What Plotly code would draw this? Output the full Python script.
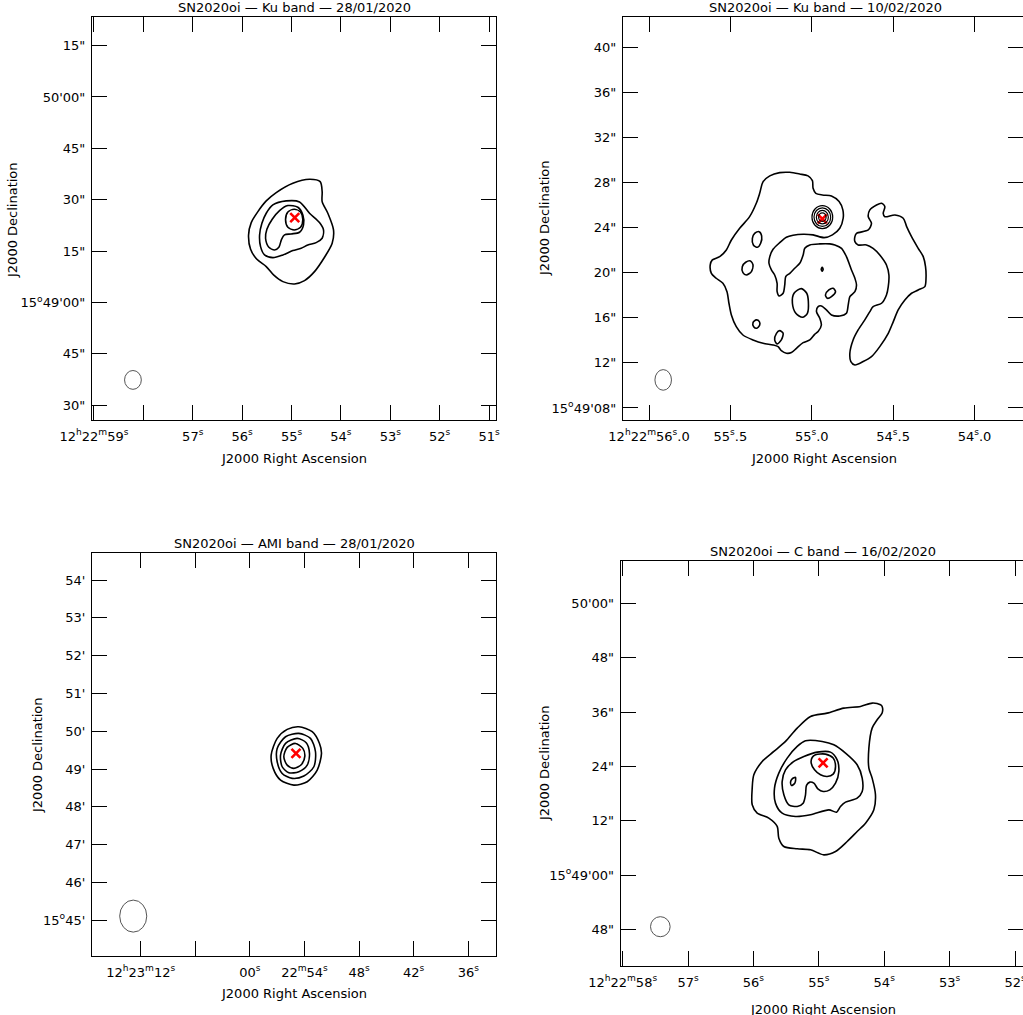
import plotly.graph_objects as go

# ---------------- DATA ----------------
# RA in seconds of 12h22m (values > 60 belong to 12h23m), Dec in arcsec offset from +15d49'00"
SRC_RA = 54.935
SRC_DEC = 24.8
COS_DEC = 0.96211                  # cos(+15.82 deg)
ARCSEC_PER_SEC = 15.0 * COS_DEC    # arcsec of sky per second of RA

# Panel 1 : Ku band 28/01/2020
P1_C1_RA = [55.310, 54.973, 54.636, 54.420, 54.380, 54.380, 54.265, 54.150, 54.177, 54.332, 54.535,
            54.737, 54.939, 55.175, 55.364, 55.512, 55.701, 55.829, 55.870, 55.816, 55.681, 55.512]
P1_C1_DEC = [32.09, 34.82, 35.98, 35.30, 32.38, 29.46, 26.06, 21.19, 17.30, 13.21, 9.02,
             6.40, 5.42, 6.10, 8.05, 10.48, 12.62, 15.55, 19.73, 23.33, 26.54, 29.66]
P1_C2_RA = [55.108, 54.838, 54.636, 54.434, 54.353, 54.380, 54.501, 54.670, 54.804, 54.973, 55.175,
            55.378, 55.546, 55.627, 55.647, 55.600, 55.512, 55.378]
P1_C2_DEC = [29.66, 29.37, 26.06, 23.33, 21.19, 18.76, 17.49, 16.81, 15.84, 15.16, 13.89,
             13.11, 13.89, 16.32, 19.73, 23.14, 26.06, 28.49]
P1_C3_RA = [55.243, 55.074, 54.872, 54.771, 54.757, 54.838, 55.007, 55.142, 55.202, 55.256, 55.344,
            55.459, 55.526, 55.499, 55.391]
P1_C3_DEC = [26.83, 28.30, 27.81, 25.57, 22.65, 20.51, 20.02, 19.73, 18.46, 16.13, 15.35,
             16.13, 18.76, 21.38, 24.30]
P1_C4_RA = [54.946, 54.818, 54.771, 54.818, 54.946, 55.074, 55.121, 55.074]
P1_C4_DEC = [27.22, 26.44, 24.21, 21.97, 21.19, 21.97, 24.21, 26.44]

# Panel 2 : Ku band 10/02/2020
P2_C1_RA = [55.299, 55.258, 55.197, 55.135, 55.074, 55.023, 54.996, 54.992, 54.975, 54.934,
            54.879, 54.832, 54.809, 54.807, 54.828, 54.873, 54.924, 54.992, 55.053, 55.115,
            55.156, 55.197, 55.238, 55.258, 55.263, 55.248, 55.228, 55.213, 55.213, 55.201,
            55.176, 55.166, 55.160, 55.135, 55.105, 55.074, 55.053, 55.043, 55.012, 54.951,
            54.889, 54.858, 54.817, 54.787, 54.756, 54.735, 54.725, 54.735, 54.766, 54.776,
            54.787, 54.828, 54.879, 54.910, 54.941, 54.961, 54.971, 54.951, 54.941, 54.961,
            54.982, 55.012, 55.053, 55.094, 55.125, 55.156, 55.187, 55.207, 55.238, 55.299,
            55.361, 55.423, 55.464, 55.494, 55.509, 55.521, 55.546, 55.587, 55.617, 55.624,
            55.611, 55.566, 55.525, 55.494, 55.443, 55.382, 55.341, 55.320]
P2_C1_DEC = [28.10, 28.61, 28.90, 28.93, 28.78, 28.61, 28.19, 27.51, 27.07, 26.92,
             26.83, 26.33, 25.59, 24.85, 23.96, 23.37, 23.13, 23.37, 23.43, 23.34,
             23.16, 22.68, 22.09, 21.44, 20.85, 20.26, 19.81, 19.07, 18.33, 17.95,
             18.19, 18.93, 19.67, 19.96, 20.41, 20.85, 21.59, 22.18, 22.48, 22.57,
             22.57, 22.48, 22.18, 21.44, 20.26, 19.52, 18.93, 18.33, 17.89, 17.15,
             16.41, 16.17, 16.26, 16.71, 17.06, 17.00, 16.56, 15.97, 15.37, 14.78,
             14.54, 14.04, 13.80, 13.30, 12.92, 12.86, 13.09, 13.45, 13.60, 13.74,
             14.04, 14.48, 15.22, 16.26, 17.30, 18.33, 19.07, 19.52, 19.96, 20.70,
             21.15, 21.44, 22.03, 22.92, 23.96, 24.99, 26.18, 27.07]
P2_C2_RA = [54.725, 54.653, 54.633, 54.653, 54.643, 54.602, 54.571, 54.551, 54.561, 54.551,
            54.489, 54.438, 54.417, 54.387, 54.346, 54.315, 54.301, 54.298, 54.305, 54.346,
            54.387, 54.428, 54.469, 54.499, 54.530, 54.582, 54.633, 54.684, 54.735, 54.760,
            54.766, 54.746, 54.715, 54.674, 54.643, 54.623, 54.571, 54.541, 54.530, 54.526,
            54.541, 54.582, 54.623, 54.664, 54.715, 54.735, 54.735]
P2_C2_DEC = [23.51, 23.81, 24.40, 24.99, 25.59, 26.03, 26.18, 25.88, 25.29, 24.99,
             25.14, 24.85, 24.11, 23.22, 22.18, 21.44, 20.55, 19.52, 18.78, 18.48,
             18.19, 17.59, 16.71, 15.67, 14.63, 13.45, 12.56, 12.12, 11.82, 12.12,
             12.86, 14.04, 14.93, 15.82, 16.56, 17.00, 17.30, 18.04, 18.78, 19.81,
             20.70, 21.59, 22.18, 22.48, 22.48, 22.77, 23.22]
P2_I1_RA = [55.324, 55.308, 55.314, 55.334, 55.359, 55.365, 55.351]
P2_I1_DEC = [23.66, 23.28, 22.63, 22.27, 22.48, 23.07, 23.51]
P2_I2_RA = [55.377, 55.361, 55.371, 55.402, 55.423, 55.427, 55.406]
P2_I2_DEC = [21.06, 20.70, 20.11, 19.81, 20.02, 20.55, 20.94]
P2_I3_RA = [55.341, 55.322, 55.320, 55.338, 55.357, 55.361]
P2_I3_DEC = [15.82, 15.67, 15.37, 15.08, 15.22, 15.58]
P2_I4_RA = [55.197, 55.176, 55.187, 55.213, 55.228, 55.217]
P2_I4_DEC = [14.87, 14.63, 14.04, 13.69, 14.04, 14.63]
P2_I5_RA = [55.064, 55.031, 55.021, 55.027, 55.057, 55.098, 55.119, 55.109]
P2_I5_DEC = [18.60, 18.19, 17.45, 16.41, 16.05, 16.41, 17.30, 18.19]
P2_I6_RA = [54.869, 54.854, 54.879, 54.904, 54.916, 54.895]
P2_I6_DEC = [18.63, 18.33, 17.89, 17.74, 18.04, 18.48]
P2_I7_RA = [54.936, 54.930, 54.936, 54.942]
P2_I7_DEC = [20.50, 20.32, 20.14, 20.32]
P2_RING_RX = [0.92, 0.74, 0.53, 0.33]   # arcsec
P2_RING_RY = [1.02, 0.83, 0.60, 0.38]   # arcsec
P2_RING_DEC = 24.95

# Panel 3 : AMI 28/01/2020
P3_C1_RA = [54.62, 53.15, 52.35, 52.13, 52.60, 53.70, 55.17, 56.63, 57.44, 57.66, 57.00, 55.90]
P3_C1_DEC = [67.2, 59.3, 40.7, 24.9, -1.6, -20.1, -25.4, -17.5, 1.1, 22.2, 48.7, 63.0]
P3_C2_RA = [54.62, 53.34, 52.79, 52.97, 54.07, 55.35, 56.45, 57.00, 57.00, 56.08]
P3_C2_DEC = [56.6, 48.7, 27.5, 3.7, -11.1, -14.8, -6.9, 11.6, 32.8, 51.3]
P3_C3_RA = [54.80, 53.81, 53.45, 53.70, 54.62, 55.72, 56.45, 56.63, 56.08]
P3_C3_DEC = [48.7, 41.8, 24.9, 6.3, -4.2, -5.8, 3.7, 22.2, 40.7]
P3_C4_RA = [54.99, 54.18, 53.96, 54.33, 55.17, 55.90, 56.27, 55.90]
P3_C4_DEC = [40.7, 32.8, 20.6, 7.4, 1.1, 6.3, 19.6, 34.4]

# Panel 4 : C band 16/02/2020
P4_C1_RA = [54.057, 54.185, 54.363, 54.618, 54.873, 55.127, 55.331, 55.510, 55.688, 55.866,
            55.994, 56.019, 56.019, 55.943, 55.765, 55.637, 55.612, 55.535, 55.331, 55.127,
            54.924, 54.745, 54.567, 54.414, 54.286, 54.159, 54.134, 54.185, 54.235, 54.235,
            54.185, 54.108, 54.032, 54.032]
P4_C1_DEC = [37.62, 37.99, 37.25, 36.88, 35.78, 35.04, 32.47, 29.53, 27.32, 25.11,
             22.17, 19.23, 15.55, 13.71, 12.61, 10.77, 8.19, 6.35, 5.84, 5.62,
             4.51, 5.25, 7.45, 9.67, 11.50, 14.44, 17.75, 21.43, 23.64, 28.05,
             32.47, 34.31, 35.78, 37.25]
P4_C2_RA = [55.204, 54.949, 54.771, 54.592, 54.414, 54.337, 54.337, 54.414, 54.592, 54.669,
            54.730, 54.847, 55.127, 55.357, 55.561, 55.663, 55.678, 55.612, 55.484, 55.331]
P4_C2_DEC = [29.67, 29.52, 28.79, 26.95, 24.38, 21.43, 18.49, 17.02, 16.13, 15.18,
             13.93, 14.44, 13.34, 12.97, 13.71, 15.92, 19.23, 22.54, 25.85, 28.42]
P4_C3_RA = [55.229, 55.025, 54.822, 54.720, 54.694, 54.745, 54.832, 54.934, 55.015, 55.076,
            55.138, 55.189, 55.204, 55.240, 55.331, 55.459, 55.535, 55.561, 55.510, 55.382]
P4_C3_DEC = [26.21, 27.17, 27.17, 25.48, 22.90, 20.32, 18.85, 18.49, 19.08, 20.32,
             20.55, 19.82, 17.75, 15.91, 15.18, 15.55, 17.75, 20.70, 23.27, 25.11]
P4_C4_RA = [55.051, 54.898, 54.781, 54.745, 54.781, 54.873, 54.975, 55.066, 55.117, 55.102]
P4_C4_DEC = [26.58, 26.73, 25.85, 24.01, 22.32, 21.80, 22.17, 23.27, 24.74, 25.99]
P4_C5_RA = [55.408, 55.357, 55.367, 55.418, 55.433]
P4_C5_DEC = [21.29, 21.58, 20.33, 19.81, 20.55]

# Restoring beams (major, minor) in arcsec
BEAMS = [(5.5, 4.9), (1.83, 1.47), (50.8, 42.9), (4.42, 4.33)]

# Titles and ticks
TITLES = ["SN2020oi — Ku band — 28/01/2020", "SN2020oi — Ku band — 10/02/2020",
          "SN2020oi — AMI band — 28/01/2020", "SN2020oi — C band — 16/02/2020"]
P1_XT = [59, 58, 57, 56, 55, 54, 53, 52, 51]
P1_XL = ["12<sup>h</sup>22<sup>m</sup>59<sup>s</sup>", "", "57<sup>s</sup>", "56<sup>s</sup>",
         "55<sup>s</sup>", "54<sup>s</sup>", "53<sup>s</sup>", "52<sup>s</sup>", "51<sup>s</sup>"]
P1_YT = [75, 60, 45, 30, 15, 0, -15, -30]
P1_YL = ['15"', "50'00\"", '45"', '30"', '15"', "15<sup>o</sup>49'00\"", '45"', '30"']
P2_XT = [56.0, 55.5, 55.0, 54.5, 54.0]
P2_XL = ["12<sup>h</sup>22<sup>m</sup>56<sup>s</sup>.0", "55<sup>s</sup>.5", "55<sup>s</sup>.0",
         "54<sup>s</sup>.5", "54<sup>s</sup>.0"]
P2_YT = [40, 36, 32, 28, 24, 20, 16, 12, 8]
P2_YL = ['40"', '36"', '32"', '28"', '24"', '20"', '16"', '12"', "15<sup>o</sup>49'08\""]
P3_XT = [72, 66, 60, 54, 48, 42, 36]
P3_XL = ["12<sup>h</sup>23<sup>m</sup>12<sup>s</sup>", "", "00<sup>s</sup>",
         "22<sup>m</sup>54<sup>s</sup>", "48<sup>s</sup>", "42<sup>s</sup>", "36<sup>s</sup>"]
P3_YT = [300, 240, 180, 120, 60, 0, -60, -120, -180, -240]
P3_YL = ["54'", "53'", "52'", "51'", "50'", "49'", "48'", "47'", "46'", "15<sup>o</sup>45'"]
P4_XT = [58, 57, 56, 55, 54, 53, 52]
P4_XL = ["12<sup>h</sup>22<sup>m</sup>58<sup>s</sup>", "57<sup>s</sup>", "56<sup>s</sup>",
         "55<sup>s</sup>", "54<sup>s</sup>", "53<sup>s</sup>", "52<sup>s</sup>"]
P4_YT = [60, 48, 36, 24, 12, 0, -12]
P4_YL = ["50'00\"", '48"', '36"', '24"', '12"', "15<sup>o</sup>49'00\"", '48"']

# ---------------- LAYOUT ----------------
W, H = 1023, 1015
FONT = dict(family="DejaVu Sans", size=13, color="black")

# pixel boxes: left, right, top, bottom ; axis ranges
PANELS = [
    dict(box=(92, 496, 16.5, 420), xr=(59.04, 50.86), yr=(-34.3, 83.5), xt=P1_XT, xl=P1_XL, yt=P1_YT, yl=P1_YL,
         beam_c=(58.211, -22.6), title=(294, 7.5), xtitle=(294, 458), ytitle=(13, 220)),
    dict(box=(623, 1023, 16.5, 420), xr=(56.16, 53.702), yr=(6.93, 42.77), xt=P2_XT, xl=P2_XL, yt=P2_YT, yl=P2_YL,
         beam_c=(55.913, 10.49), title=(825, 7.5), xtitle=(824, 458), ytitle=(544, 218)),
    dict(box=(92, 496.3, 553.3, 956), xr=(77.35, 32.92), yr=(-296.6, 342.4), xt=P3_XT, xl=P3_XL, yt=P3_YT, yl=P3_YL,
         beam_c=(72.82, -233.3), title=(294, 543), xtitle=(294, 993), ytitle=(37, 755)),
    dict(box=(620.7, 1023, 560.7, 966), xr=(58.03, 51.878), yr=(-20.01, 69.40), xt=P4_XT, xl=P4_XL, yt=P4_YT, yl=P4_YL,
         beam_c=(57.424, -11.34), title=(823, 551), xtitle=(823, 1009), ytitle=(544, 763)),
]

CONTOURS = [
    [(P1_C1_RA, P1_C1_DEC), (P1_C2_RA, P1_C2_DEC), (P1_C3_RA, P1_C3_DEC), (P1_C4_RA, P1_C4_DEC)],
    [(P2_C1_RA, P2_C1_DEC), (P2_C2_RA, P2_C2_DEC), (P2_I1_RA, P2_I1_DEC), (P2_I2_RA, P2_I2_DEC),
     (P2_I3_RA, P2_I3_DEC), (P2_I4_RA, P2_I4_DEC), (P2_I5_RA, P2_I5_DEC), (P2_I6_RA, P2_I6_DEC),
     (P2_I7_RA, P2_I7_DEC)],
    [(P3_C1_RA, P3_C1_DEC), (P3_C2_RA, P3_C2_DEC), (P3_C3_RA, P3_C3_DEC), (P3_C4_RA, P3_C4_DEC)],
    [(P4_C1_RA, P4_C1_DEC), (P4_C2_RA, P4_C2_DEC), (P4_C3_RA, P4_C3_DEC), (P4_C4_RA, P4_C4_DEC),
     (P4_C5_RA, P4_C5_DEC)],
]

fig = go.Figure()
shapes = []
annotations = []
layout_axes = {}


def px(x):
    return x / W


def py(y):
    return 1 - y / H


for i, p in enumerate(PANELS):
    k = "" if i == 0 else str(i + 1)
    xa, ya = "x" + k, "y" + k
    left, right, top, bottom = p["box"]
    common = dict(showgrid=False, zeroline=False, showline=True, linecolor="black", linewidth=1.2,
                  mirror="ticks", ticks="inside", ticklen=15, tickwidth=1.2, tickcolor="black",
                  tickfont=FONT, tickmode="array", ticklabeloverflow="allow", fixedrange=True,
                  automargin=False)
    layout_axes["xaxis" + k] = dict(common, domain=[px(left), min(px(right), 1.0)], range=list(p["xr"]),
                                    anchor=ya, tickvals=p["xt"], ticktext=p["xl"], ticklabelstandoff=4)
    layout_axes["yaxis" + k] = dict(common, domain=[py(bottom), py(top)], range=list(p["yr"]),
                                    anchor=xa, tickvals=p["yt"], ticktext=p["yl"], ticklabelstandoff=3)

    for ra, dec in CONTOURS[i]:
        fig.add_trace(go.Scatter(x=list(ra) + [ra[0]], y=list(dec) + [dec[0]], mode="lines",
                                 line=dict(color="black", width=1.6, shape="spline", smoothing=0.8),
                                 xaxis=xa, yaxis=ya, hoverinfo="skip", showlegend=False))

    # restoring beam
    bmaj, bmin = BEAMS[i]
    cx, cy = p["beam_c"]
    hw = bmin / 2 / ARCSEC_PER_SEC
    shapes.append(dict(type="circle", xref=xa, yref=ya, x0=cx + hw, x1=cx - hw,
                       y0=cy - bmaj / 2, y1=cy + bmaj / 2, line=dict(color="#555555", width=1)))

    # source position
    fig.add_trace(go.Scatter(x=[SRC_RA], y=[SRC_DEC], mode="markers",
                             marker=dict(symbol="x-thin", size=9, color="red",
                                         line=dict(color="red", width=2.6)),
                             xaxis=xa, yaxis=ya, hoverinfo="skip", showlegend=False))

    tx, ty = p["title"]
    annotations.append(dict(text=TITLES[i], x=px(tx), y=py(ty), xref="paper", yref="paper",
                            xanchor="center", yanchor="middle", showarrow=False, font=FONT, borderpad=0))
    tx, ty = p["xtitle"]
    annotations.append(dict(text="J2000 Right Ascension", x=px(tx), y=py(ty), xref="paper", yref="paper",
                            xanchor="center", yanchor="middle", showarrow=False, font=FONT, borderpad=0))
    tx, ty = p["ytitle"]
    annotations.append(dict(text="J2000 Declination", x=px(tx), y=py(ty), xref="paper", yref="paper",
                            xanchor="center", yanchor="middle", showarrow=False, font=FONT, textangle=-90))

# concentric rings around the source in panel 2
for rx, ry in zip(P2_RING_RX, P2_RING_RY):
    hw = rx / ARCSEC_PER_SEC
    shapes.append(dict(type="circle", xref="x2", yref="y2", x0=SRC_RA + hw, x1=SRC_RA - hw,
                       y0=P2_RING_DEC - ry, y1=P2_RING_DEC + ry, line=dict(color="black", width=1.2)))

fig.update_layout(width=W, height=H, margin=dict(l=0, r=0, t=0, b=0, autoexpand=False),
                  paper_bgcolor="white", plot_bgcolor="white", showlegend=False, font=FONT,
                  shapes=shapes, annotations=annotations, **layout_axes)

fig.write_html("out.html", config={"displayModeBar": False},
               post_script="document.body.style.margin='0px';document.body.style.padding='0px';"
                           "document.body.style.overflow='hidden';")
